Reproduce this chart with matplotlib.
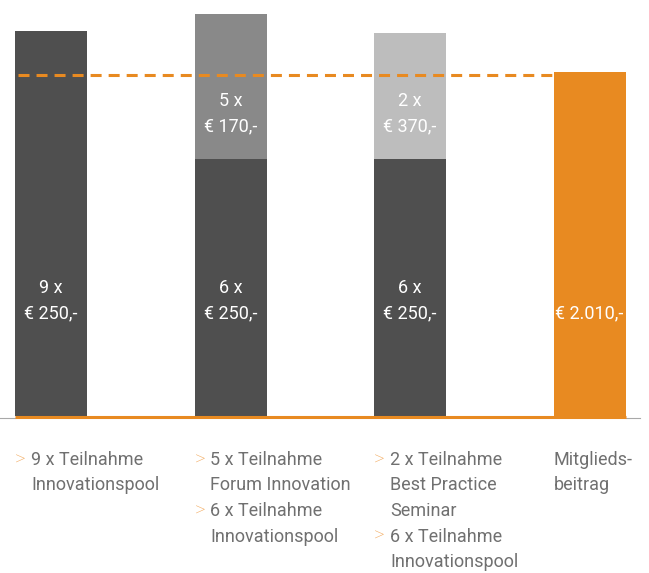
import matplotlib
matplotlib.use("Agg")
import matplotlib.pyplot as plt
from matplotlib.transforms import blended_transform_factory, ScaledTranslation

plt.rcParams['font.family'] = ['Roboto', 'DejaVu Sans']

# data
categories = ["Innovationspool", "Forum + Innovationspool", "Best Practice + Innovationspool", "Mitgliedsbeitrag"]
base_values = [2250, 1500, 1500, 0]       # dark segment (x € 250,-)
top_values = [0, 850, 740, 0]             # upper segment
member_fee = 2010
base_labels = [["9 x", "€ 250,-"], ["6 x", "€ 250,-"], ["6 x", "€ 250,-"], []]
top_labels = [[], ["5 x", "€ 170,-"], ["2 x", "€ 370,-"], []]
fee_label = "€ 2.010,-"
bottom_lines = [
    [(">", "9 x Teilnahme"), ("", "Innovationspool")],
    [(">", "5 x Teilnahme"), ("", "Forum Innovation"), (">", "6 x Teilnahme"), ("", "Innovationspool")],
    [(">", "2 x Teilnahme"), ("", "Best Practice"), ("", "Seminar"), (">", "6 x Teilnahme"), ("", "Innovationspool")],
    [(None, "Mitglieds-"), (None, "beitrag")],
]

DARK = "#4f4f4f"
MID = "#898989"
LIGHT = "#bdbdbd"
ORANGE = "#e88a21"
TXT = "#707070"

W, H = 649, 573
fig = plt.figure(figsize=(W/100, H/100), dpi=100)
base_px = 416
scale = 0.1712
ax = fig.add_axes([0, (H - base_px)/H, 1, base_px/H])
spacing = 179.5
c0 = 51
ax.set_xlim(-c0/spacing, (W - c0)/spacing)
ax.set_ylim(0, base_px/scale)
ax.axis('off')

x = list(range(len(categories)))
bw = 72/spacing
top_colors = [MID, MID, LIGHT, MID]
ax.bar(x[:3], base_values[:3], width=bw, color=DARK, zorder=2)
for i in range(3):
    if top_values[i]:
        ax.bar(x[i], top_values[i], bottom=base_values[i], width=bw, color=top_colors[i], zorder=2)
ax.bar(x[3], member_fee, width=bw, color=ORANGE, zorder=2)

# dashed member fee line
off = ScaledTranslation(0, -3/100, fig.dpi_scale_trans)
ax.plot([x[0]-bw/2 + 3/spacing, x[3]-bw/2], [member_fee, member_fee], color=ORANGE, lw=2.2,
        dashes=(3.6, 2.3), zorder=3, dash_capstyle='butt', transform=ax.transData + off)

# baselines: thin grey outside the orange one
gy = -2.0/scale
ax.plot([ax.get_xlim()[0], x[0]-bw/2], [gy, gy], color="#a8a8a8", lw=0.8, clip_on=False, zorder=1)
ax.plot([x[3]+bw/2, ax.get_xlim()[0] + 640/spacing], [gy, gy], color="#a8a8a8", lw=0.8, clip_on=False, zorder=1)
ax.plot([x[0]-bw/2, x[3]+bw/2], [-0.5/scale, -0.5/scale], color=ORANGE, lw=2.2, clip_on=False, zorder=4,
        solid_capstyle='butt')

fs = 13
line_h = 25.5
for i in range(3):
    for k, s in enumerate(base_labels[i]):
        ax.text(x[i], (base_px - (288 + k*line_h))/scale, s, ha='center', va='center', color='white',
                fontsize=fs, zorder=5)
    for k, s in enumerate(top_labels[i]):
        ax.text(x[i], (base_px - (101 + k*line_h))/scale, s, ha='center', va='center', color='white',
                fontsize=fs, zorder=5)
ax.text(x[3], (base_px - 313)/scale, fee_label, ha='center', va='center', color='white', fontsize=fs, zorder=5)

# bottom texts
ftr = blended_transform_factory(ax.transData, fig.transFigure)
for i, lines in enumerate(bottom_lines):
    left = x[i] - bw/2
    for k, (mark, txt) in enumerate(lines):
        py = 460 + k*line_h
        if mark is None:
            tx = left
        else:
            tx = left + 16/spacing
            if mark:
                ax.text(left, 1 - py/H, mark, color="#f2a85a", fontsize=fs+2, ha='left', va='center',
                        transform=ftr, clip_on=False, fontweight='light')
        ax.text(tx, 1 - py/H, txt, color=TXT, fontsize=fs, ha='left', va='center',
                transform=ftr, clip_on=False)

fig.savefig("out.png", dpi=100)
